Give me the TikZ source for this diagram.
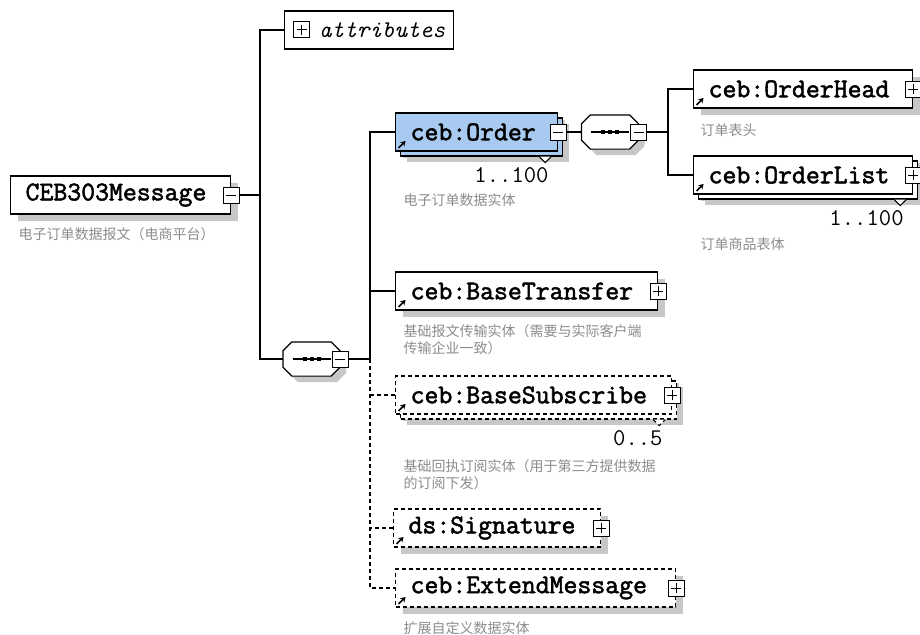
\documentclass[tikz,border=0pt]{standalone}
\usepackage{fontspec}
\newfontfamily\cjkfont{Noto Sans CJK SC}
\newfontfamily\elemfont{Latin Modern Mono}[FakeBold=2]
\usepackage{tikz}
\usetikzlibrary{shadows,arrows.meta}
\definecolor{orderblue}{RGB}{168,202,240}
\definecolor{notegray}{RGB}{140,140,140}

\begin{document}
\begin{tikzpicture}[x=1pt,y=-1pt,line width=1.2pt,
    greyshadow/.style={drop shadow={shadow xshift=#1,shadow yshift=-#1,fill=black!22,opacity=1}},
    elem/.style={draw=black,fill=white,anchor=west,minimum height=38pt,inner xsep=15pt,inner ysep=0pt,
                 text width=#1,align=left,font=\elemfont\fontsize{27}{27}\selectfont,greyshadow=7pt},
    multi/.style={greyshadow=11pt,copy shadow={shadow xshift=5pt,shadow yshift=-5pt}},
    optional/.style={dash pattern=on 4pt off 3pt},
    ref/.style={path picture={\draw[solid,line width=1.6pt,-{Stealth[length=5pt,width=6pt]}]
                ([shift={(3pt,3pt)}]path picture bounding box.south west) -- ++(7pt,7pt);}},
    minus/.style={draw=black,fill=white,solid,minimum size=16pt,inner sep=0pt,line width=1pt,
                  path picture={\draw ([xshift=3pt]path picture bounding box.west) -- ([xshift=-3pt]path picture bounding box.east);}},
    plus/.style={draw=black,fill=white,solid,minimum size=16pt,inner sep=0pt,line width=1pt,
                 path picture={\draw ([xshift=3pt]path picture bounding box.west) -- ([xshift=-3pt]path picture bounding box.east);
                               \draw ([yshift=3pt]path picture bounding box.south) -- ([yshift=-3pt]path picture bounding box.north);}},
    seq/.style={minimum width=56pt,minimum height=33pt,inner sep=0pt},
    mult/.style={anchor=east,inner sep=0pt,font=\ttfamily\fontsize{24}{24}\selectfont},
    note/.style={anchor=west,inner sep=0pt,align=left,text=notegray,font=\cjkfont\fontsize{14}{17}\selectfont}
    ]
    \useasboundingbox (0,0) rectangle (920,634);

    % elements
    \node[elem=190pt] (root) at (10,195) {CEB303Message};
    \node[draw=black,fill=white,anchor=west,minimum width=169pt,minimum height=38pt,inner sep=0pt,
          font=\ttfamily\itshape\fontsize{24}{24}\selectfont] (attributes) at (284,30) {\hspace*{26pt}attributes};
    \node[plus] (attributes-tog) at (301.5,30) {};
    \node[seq] (seq1) at (311.5,359) {};
    \node[elem=132pt,multi,ref,fill=orderblue] (order) at (395,132) {ceb:Order};
    \node[seq] (seq2) at (610,132) {};
    \node[elem=189pt,ref] (orderhead) at (693,89) {ceb:OrderHead};
    \node[elem=189pt,multi,ref] (orderlist) at (693,175) {ceb:OrderList};
    \node[elem=232pt,ref] (transfer) at (395,291) {ceb:BaseTransfer};
    \node[elem=246pt,multi,ref,optional] (subscribe) at (395,395) {ceb:BaseSubscribe};
    \node[elem=177pt,ref,optional] (signature) at (393,528) {ds:Signature};
    \node[elem=250pt,ref,optional] (extend) at (395,588) {ceb:ExtendMessage};

    % sequence symbols
    \foreach \n in {seq1,seq2}
        {
        \draw[fill=white,greyshadow=6pt] ([xshift=9pt]\n.north west) -- ([xshift=-9pt]\n.north east)
            -- ([yshift=-9pt]\n.north east) -- ([yshift=9pt]\n.south east) -- ([xshift=-9pt]\n.south east)
            -- ([xshift=9pt]\n.south west) -- ([yshift=9pt]\n.south west) -- ([yshift=-9pt]\n.north west) -- cycle;
        \draw ([xshift=-19pt]\n.center) -- ([xshift=19pt]\n.center);
        \foreach \d in {-9pt,-2pt,5pt}
            \fill ([xshift=\d,yshift=-2pt]\n.center) rectangle ++(4pt,4pt);
        }

    % toggles
    \foreach \n in {root,order,seq1,seq2}
        \node[minus] (\n-tog) at (\n.east) {};
    \foreach \n in {orderhead,orderlist,transfer,subscribe,signature,extend}
        \node[plus] (\n-tog) at (\n.east) {};

    % occurrence marks
    \foreach \n/\s/\m in {order/solid/1..100,orderlist/solid/1..100,subscribe/optional/0..5}
        {
        \filldraw[\s,fill=white,line width=1pt] ([shift={(-19pt,-5pt)}]\n.south east) -- ++(6pt,-6pt) -- ++(6pt,6pt);
        \node[mult] (\n-mult) at ([shift={(-9pt,-24pt)}]\n.south east) {\m};
        }

    % notes
    \node[note] (root-note) at (18,234) {电子订单数据报文（电商平台）};
    \node[note] (order-note) at (403,200) {电子订单数据实体};
    \node[note] (orderhead-note) at (700,130) {订单表头};
    \node[note] (orderlist-note) at (700,244) {订单商品表体};
    \node[note] (transfer-note) at (403,339.5) {基础报文传输实体（需要与实际客户端\\传输企业一致）};
    \node[note] (subscribe-note) at (403,474.5) {基础回执订阅实体（用于第三方提供数据\\的订阅下发）};
    \node[note] (extend-note) at (403,628) {扩展自定义数据实体};

    % connectors
    \coordinate (bus1) at (260,0);
    \coordinate (bus2) at (370,0);
    \coordinate (bus3) at (668,0);
    \draw (root-tog.east) -- (root-tog.east -| bus1);
    \draw (attributes.west) -| (bus1 |- seq1.west) -- (seq1.west);
    \draw (seq1-tog.east) -- (seq1-tog.east -| bus2);
    \draw (order.west) -| (bus2 |- seq1-tog.east);
    \draw (transfer.west) -- (transfer.west -| bus2);
    \draw[optional] (bus2 |- seq1-tog.east) |- (extend.west);
    \draw[optional] (subscribe.west) -- (subscribe.west -| bus2);
    \draw[optional] (signature.west) -- (signature.west -| bus2);
    \draw (order-tog.east) -- (seq2.west);
    \draw (seq2-tog.east) -- (seq2-tog.east -| bus3);
    \draw (orderhead.west) -| (bus3 |- orderlist.west) -- (orderlist.west);
\end{tikzpicture}
\end{document}
